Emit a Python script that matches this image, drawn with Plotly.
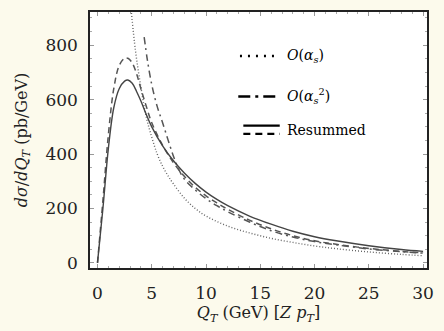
import plotly.graph_objects as go

# Resummed curves (solid and dashed)
qt_res = [0, 0.5, 1, 1.5, 2, 2.5, 2.8, 3.2, 3.6, 4, 4.5, 5, 6, 7, 8, 9, 10, 11, 12, 14, 16, 18, 20, 22, 25, 28, 30]
res_solid = [0, 200, 420, 570, 640, 668, 672, 660, 630, 595, 545, 500, 430, 375, 330, 292, 260, 233, 210, 172, 142, 116, 96, 81, 63, 49, 42]
res_dashed = [0, 230, 470, 640, 725, 752, 752, 735, 695, 640, 575, 515, 432, 368, 318, 278, 246, 220, 197, 157, 125, 100, 81, 68, 53, 42, 37]

# O(alpha_s)
qt_o1 = [3.1, 3.5, 4, 4.5, 5, 5.5, 6, 6.5, 7, 8, 9, 10, 12, 14, 16, 18, 20, 22, 25, 28, 30]
o1 = [930, 780, 645, 535, 462, 400, 355, 320, 290, 238, 200, 172, 135, 110, 90, 75, 62, 52, 40, 31, 26]

# O(alpha_s^2)
qt_o2 = [4.3, 4.6, 5, 5.5, 6, 6.5, 7, 7.5, 8, 9, 10, 11, 12, 14, 16, 18, 20, 22, 25, 28, 30]
o2 = [830, 745, 655, 575, 515, 452, 392, 342, 308, 268, 236, 210, 188, 150, 118, 95, 78, 66, 51, 41, 36]

x_ticks = [0, 5, 10, 15, 20, 25, 30]
y_ticks = [0, 200, 400, 600, 800]

fig = go.Figure()
fig.add_trace(go.Scatter(x=qt_o1, y=o1, mode="lines", line=dict(color="#666666", width=1.4, dash="1px,2px", shape="spline"), showlegend=False))
fig.add_trace(go.Scatter(x=qt_o2, y=o2, mode="lines", line=dict(color="#555555", width=1.5, dash="7px,4px,2px,4px", shape="spline"), showlegend=False))
fig.add_trace(go.Scatter(x=qt_res, y=res_dashed, mode="lines", line=dict(color="#555555", width=1.5, dash="6px,4px", shape="spline"), showlegend=False))
fig.add_trace(go.Scatter(x=qt_res, y=res_solid, mode="lines", line=dict(color="#444444", width=1.4, shape="spline"), showlegend=False))

serif = "DejaVu Serif"

# legend drawn manually (paper coordinates)
def pline(x0, x1, y, dash, width=2.2):
    fig.add_shape(type="line", xref="paper", yref="paper", x0=x0, x1=x1, y0=y, y1=y,
                  line=dict(color="black", width=width, dash=dash))

pline(0.445, 0.560, 0.828, "2px,6px", 2.4)
pline(0.440, 0.563, 0.670, "12px,5px,3px,5px", 2.4)
pline(0.455, 0.563, 0.556, "solid", 2.2)
pline(0.455, 0.563, 0.524, "7px,5px", 2.2)

def ptext(y, txt):
    fig.add_annotation(xref="paper", yref="paper", x=0.578, y=y, text=txt, showarrow=False,
                       xanchor="left", yanchor="middle", font=dict(family=serif, size=14, color="black"))

ptext(0.828, "<i>O</i>(<i>α<sub>s</sub></i>)")
ptext(0.670, "<i>O</i>(<i>α</i><sub><i>s</i></sub><sup>2</sup>)")
ptext(0.540, "Resummed")

axis_common = dict(showline=True, linecolor="#222222", linewidth=1.5, mirror="ticks",
                   ticks="inside", ticklen=4, tickcolor="#999999", showgrid=False, zeroline=False,
                   tickfont=dict(family=serif, size=17, color="#222222"))

fig.update_layout(
    width=444, height=331,
    margin=dict(l=90, r=13, t=10, b=63),
    paper_bgcolor="#fcfaec", plot_bgcolor="white",
    xaxis=dict(range=[-0.69, 30.36], tickvals=x_ticks, ticklabelstandoff=9,
               minor=dict(dtick=1, ticks="inside", ticklen=2, tickcolor="#aaaaaa"),
               title=dict(text="<i>Q<sub>T</sub></i> (GeV) [<i>Z p<sub>T</sub></i>]", standoff=2,
                          font=dict(family=serif, size=16, color="#222222")),
               **axis_common),
    yaxis=dict(range=[-19, 922], tickvals=y_ticks, ticklabelstandoff=7,
               minor=dict(dtick=50, ticks="inside", ticklen=2, tickcolor="#aaaaaa"),
               title=dict(text="<i>dσ</i>/<i>dQ<sub>T</sub></i> (pb/GeV)", standoff=14,
                          font=dict(family=serif, size=16, color="#222222")),
               **axis_common),
)

fig.write_html("out.html")
